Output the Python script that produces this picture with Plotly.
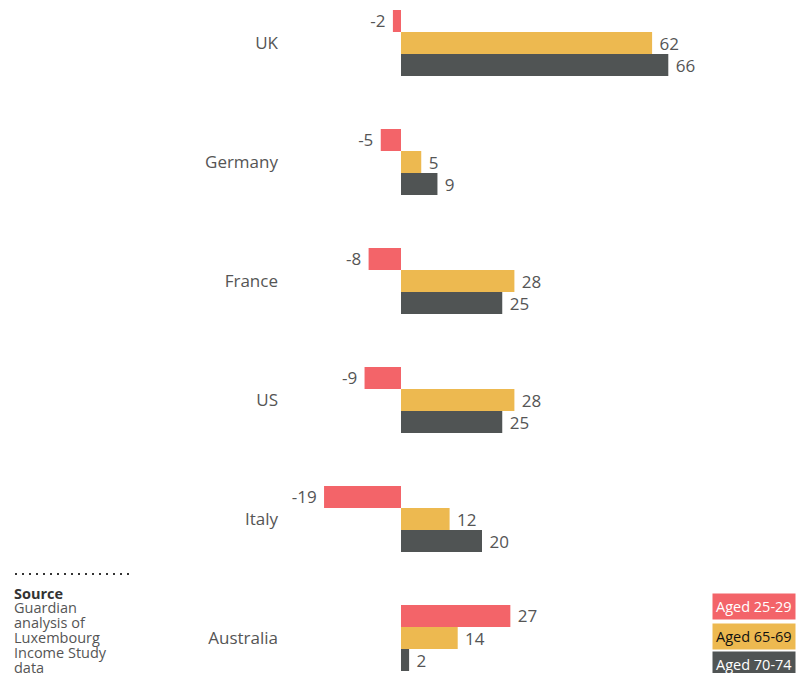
import plotly.graph_objects as go

countries = ["UK", "Germany", "France", "US", "Italy", "Australia"]
aged_25_29 = [-2, -5, -8, -9, -19, 27]
aged_65_69 = [62, 5, 28, 28, 12, 14]
aged_70_74 = [66, 9, 25, 25, 20, 2]
series_names = ["Aged 25-29", "Aged 65-69", "Aged 70-74"]
source_lines = ["<b>Source</b>", "Guardian", "analysis of", "Luxembourg", "Income Study", "data"]

colors = ["#f36469", "#edb950", "#505454"]
legend_font_colors = ["#ffffff", "#111111", "#ffffff"]
FONT = "Open Sans"

W, H = 796, 673
ZERO_PX = 401
PX_PER_UNIT = 4.05
LEFT = 283


def px_x(sx):
    return (sx - LEFT) / (W - LEFT)


def px_y(sy):
    return 1 - sy / H


def labels(vals):
    return [f"{v}\u00a0" if v < 0 else f"\u00a0{v}" for v in vals]


fig = go.Figure()
for name, vals, col in zip(series_names, [aged_25_29, aged_65_69, aged_70_74], colors):
    fig.add_trace(go.Bar(
        y=countries, x=vals, orientation="h", name=name,
        marker=dict(color=col, line=dict(width=0)),
        text=labels(vals), textposition="outside", constraintext="none",
        textfont=dict(family=FONT, size=17, color="#555555"),
        cliponaxis=False, hoverinfo="x+y",
    ))

per_cat = 119.0
top_off = 43 / per_cat
bot_off = (H - 638) / per_cat

fig.update_layout(
    width=W, height=H,
    margin=dict(l=LEFT, r=0, t=0, b=0),
    barmode="group", bargap=0.445, bargroupgap=0,
    paper_bgcolor="white", plot_bgcolor="white",
    showlegend=False,
    font=dict(family=FONT, color="#555555"),
    xaxis=dict(visible=False,
               range=[(LEFT - ZERO_PX) / PX_PER_UNIT, (W - ZERO_PX) / PX_PER_UNIT]),
    yaxis=dict(range=[len(countries) - 1 + bot_off, -top_off],
               showgrid=False, zeroline=False, showline=False, ticks="",
               tickfont=dict(family=FONT, size=17, color="#555555"),
               ticklabelstandoff=4),
)

# legend boxes
leg_y = [606, 636, 664]
for name, col, fc, yy in zip(series_names, colors, legend_font_colors, leg_y):
    fig.add_annotation(
        xref="paper", yref="paper", x=1, y=px_y(yy),
        xanchor="right", yanchor="middle", showarrow=False,
        text=name, bgcolor=col, borderpad=3,
        font=dict(family=FONT, size=14.5, color=fc),
    )

# source block
fig.add_shape(type="line", xref="paper", yref="paper",
              x0=px_x(15), x1=px_x(131), y0=px_y(574), y1=px_y(574),
              line=dict(color="#333333", width=2, dash="2px,5px"))
for i, line in enumerate(source_lines):
    fig.add_annotation(
        xref="paper", yref="paper", x=px_x(12), y=px_y(593 + i * 14.8),
        xanchor="left", yanchor="middle", showarrow=False, text=line,
        font=dict(family=FONT, size=14.5, color="#333333" if i == 0 else "#555555"),
    )

fig.write_html(
    "out.html",
    config={"displayModeBar": False},
    post_script="document.body.style.margin='0';document.body.style.overflow='hidden';",
)
